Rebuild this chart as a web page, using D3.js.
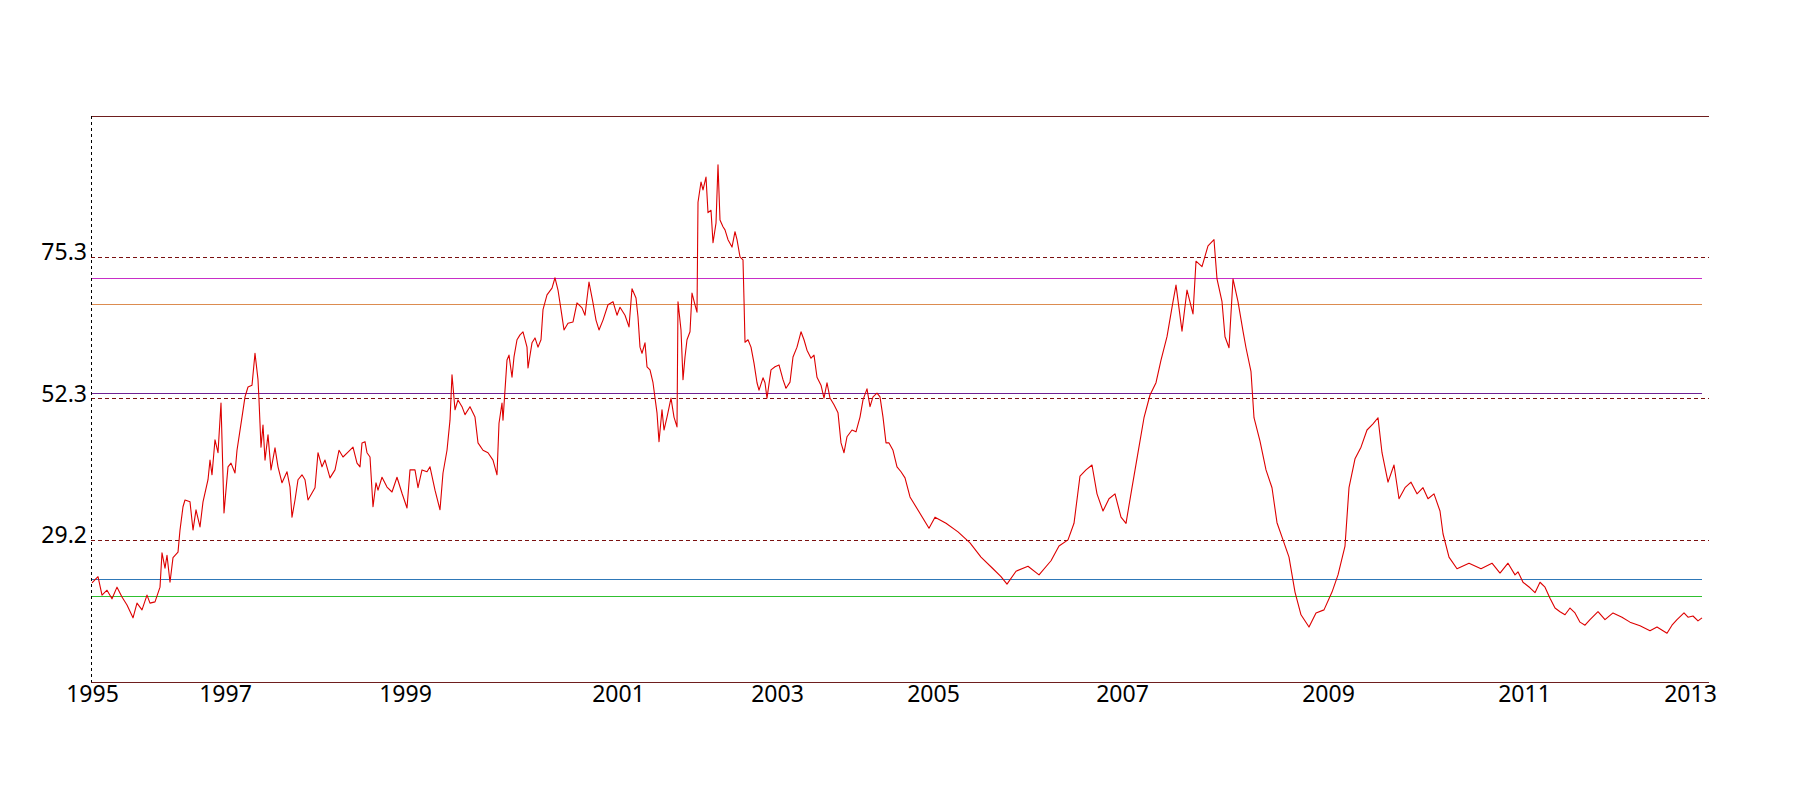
<!DOCTYPE html>
<html>
<head>
<meta charset="utf-8">
<title>Index 1995-2013</title>
<script src="https://d3js.org/d3.v7.min.js"></script>
<style>
  body { margin: 0; background: #fff; }
  .tick text { font-family: "Noto Sans", sans-serif; font-size: 23px; fill: #000; }
  line { shape-rendering: crispEdges; }
</style>
</head>
<body>
<svg width="1800" height="800"></svg>
<script>
// session index of each sample, and closing value
const sessions = [3,21,33,48,63,78,93,108,126,138,153,168,177,192,207,213,222,228,237,246,261,267,276,282,297,306,315,327,336,351,357,363,372,381,390,399,411,420,432,438,453,462,471,483,492,501,504,510,516,522,531,540,552,561,573,588,597,603,612,621,633,642,651,672,681,693,702,717,732,744,756,771,786,798,807,813,822,
  828,837,846,855,861,873,888,903,918,933,948,957,972,981,993,1008,1017,1032,1047,1056,1068,1077,1083,1092,1101,1113,1122,1137,1152,1161,1176,1191,1206,1218,1224,1233,1236,1242,1248,1254,1263,1269,1278,1287,1296,1308,1311,1323,1332,1341,1350,1356,1368,1383,1392,1401,1410,1419,1431,1446,1458,1473,1482,1494,1506,1515,1524,1536,1551,1566,1578,1587,1602,1614,1623,1635,1641,1647,
  1653,1662,1668,1677,1686,1698,1704,1713,1719,1728,1740,1749,1758,1761,1770,1776,1782,1788,1797,1803,1812,1818,1821,1830,1836,1845,1851,1860,1866,1875,1881,1887,1896,1902,1911,1923,1932,1938,1947,1956,1959,1962,1971,1980,1989,1998,2004,2016,2022,2028,2040,2052,2064,2076,2085,2097,2106,2118,2130,2139,2148,2160,2169,2178,2190,2199,2208,2217,2229,2241,2250,2259,2268,2283,2295,2307,2316,2328,2337,2346,2358,2367,2376,2385,2394,2406,2418,2430,2442,2457,
  2514,2532,2565,2601,2637,2670,2706,2730,2748,2775,2811,2844,2880,2904,2931,2949,2967,2985,3003,3018,3036,3054,3072,3090,3105,3123,3141,3159,3177,3195,3210,3228,3246,3255,3273,3288,3306,3315,3333,3351,3369,3378,3393,3402,3414,3426,3441,3456,3465,3480,3489,3507,3525,3543,3558,3576,3594,3612,3630,3654,3675,3699,3723,3741,3762,3774,3792,3810,3828,3846,3861,3873,3891,3909,3924,3942,3960,3978,3996,4011,4029,4047,4056,4074,4098,4134,4170,4203,
  4227,4251,4272,4281,4296,4317,4332,4347,4362,4377,4392,4407,4422,4437,4452,4467,4482,4497,4521,4542,4566,4593,4617,4647,4677,4698,4728,4743,4758,4779,4791,4806,4821,4833];
const closes = [22.3,23.3,20.3,21.1,19.7,21.6,20.0,18.7,16.6,19.0,17.9,20.3,19.0,19.2,21.6,27.2,24.7,26.8,22.4,26.4,27.3,30.9,34.7,35.8,35.5,30.9,34.2,31.4,35.5,39.1,42.3,39.9,45.6,43.5,51.6,33.7,41.2,41.8,40.2,43.9,49.3,52.6,54.2,54.5,59.7,55.4,52.1,44.4,48.0,42.3,46.4,40.7,44.3,41.2,38.6,40.4,37.9,33.0,35.8,39.1,39.9,39.1,35.8,37.8,43.5,41.2,42.3,39.4,40.7,43.9,42.8,43.6,44.4,41.8,41.2,45.1,45.3,
  43.5,42.8,34.7,38.6,37.4,39.5,37.9,37.1,39.5,36.9,34.5,40.7,40.7,37.8,40.7,40.4,41.2,37.4,34.2,40.2,43.9,48.8,56.2,50.5,52.1,51.0,49.7,51.0,49.3,45.1,43.9,43.5,42.3,39.9,48.3,51.6,48.8,53.7,58.6,59.4,55.8,59.1,61.9,62.7,63.2,60.7,57.3,61.4,62.2,60.7,61.9,66.8,69.2,70.3,72.0,70.0,66.8,63.5,64.6,64.8,67.9,67.1,65.9,71.3,67.9,65.1,63.5,65.1,67.6,68.1,65.9,67.2,65.9,64.0,70.2,68.7,65.6,60.7,
  59.7,61.4,57.5,57.0,54.9,50.0,45.3,50.5,47.2,49.3,52.4,49.3,47.7,68.1,63.5,55.4,59.1,61.9,63.2,69.5,67.6,66.4,84.3,87.6,86.3,88.4,82.6,83.0,77.7,80.9,90.4,81.4,80.3,79.8,78.2,77.0,79.5,78.2,75.4,74.9,68.4,61.5,61.9,60.7,58.1,54.9,53.7,55.7,54.9,52.4,57.0,57.5,57.8,55.4,54.0,55.0,59.1,60.7,63.2,61.9,60.2,58.9,59.4,55.8,54.5,52.4,54.9,52.4,51.3,50.0,45.1,43.5,46.1,47.2,46.9,49.3,52.1,53.9,51.0,52.6,53.2,52.6,49.3,45.1,45.1,43.9,41.2,40.4,39.4,36.3,
  31.2,33.0,32.0,30.6,28.8,26.5,24.6,23.3,22.1,24.2,25.0,23.6,25.9,28.3,29.3,32.0,39.7,40.7,41.5,36.8,34.0,36.0,36.8,33.0,32.0,37.8,43.5,49.2,52.9,54.9,58.6,62.4,68.1,70.8,63.3,70.0,66.1,74.7,73.8,77.2,78.2,71.8,68.1,62.4,60.6,71.8,68.1,63.3,60.6,56.7,49.2,45.4,40.7,37.8,32.1,29.3,26.5,20.8,17.1,15.1,17.4,17.9,20.8,23.6,28.3,37.8,42.5,44.4,47.2,48.2,49.2,43.5,38.7,41.5,36.0,37.8,38.7,36.8,37.8,36.0,36.8,34.0,30.3,26.5,24.6,25.5,24.6,25.5,
  23.9,25.5,23.6,24.1,22.4,21.5,20.7,22.4,21.6,19.8,18.2,17.6,17.1,18.2,17.4,15.9,15.4,16.3,17.6,16.3,17.4,16.7,15.9,15.3,14.5,15.1,14.1,15.4,16.3,17.4,16.7,16.9,16.1,16.6];

const yearTicks = [3, 402, 942, 1581, 2058, 2526, 3093, 3711, 4299, 4797];
const yearLabels = ["1995","1997","1999","2001","2003","2005","2007","2009","2011","2013"];

const valueTicks = [29.2, 52.3, 75.3];
const valueLabels = ["29.2", "52.3", "75.3"];
const yMin = 6.15, yMax = 98.35;

// horizontal reference levels
const levelValues = [71.8, 67.7, 53.1, 22.9, 20.0];
const levelColors = ["#c82ec8", "#dc8c50", "#6e2294", "#2e78b8", "#30c030"];

const svg = d3.select("svg");
const plotLeft = 91, plotRight = 1709, plotTop = 116, plotBottom = 682;

const x = d3.scaleLinear().domain([0, 4854]).range([plotLeft, plotRight]);
const y = d3.scaleLinear().domain([yMin, yMax]).range([plotBottom, plotTop]);

const data = sessions.map((s, i) => ({ s: s, v: closes[i] }));
const lastS = sessions[sessions.length - 1];

// dashed grid at the labelled values
svg.selectAll("line.grid")
  .data(valueTicks)
  .enter()
  .append("line")
  .attr("class", "grid")
  .attr("x1", plotLeft).attr("x2", plotRight)
  .attr("y1", d => y(d)).attr("y2", d => y(d))
  .attr("stroke", "#7a1010")
  .attr("stroke-width", 1)
  .attr("stroke-dasharray", "4,3");

// reference levels
svg.selectAll("line.level")
  .data(levelValues)
  .enter()
  .append("line")
  .attr("class", "level")
  .attr("x1", plotLeft).attr("x2", x(lastS))
  .attr("y1", d => y(d)).attr("y2", d => y(d))
  .attr("stroke", (d, i) => levelColors[i])
  .attr("stroke-width", 1);

// frame: top and bottom lines, dotted left axis
svg.append("line")
  .attr("x1", plotLeft).attr("x2", plotRight).attr("y1", plotTop).attr("y2", plotTop)
  .attr("stroke", "#6e1e1e").attr("stroke-width", 1);
svg.append("line")
  .attr("x1", plotLeft).attr("x2", plotRight).attr("y1", plotBottom).attr("y2", plotBottom)
  .attr("stroke", "#6e1e1e").attr("stroke-width", 1);
svg.append("line")
  .attr("x1", plotLeft).attr("x2", plotLeft).attr("y1", plotTop).attr("y2", plotBottom)
  .attr("stroke", "#000").attr("stroke-width", 1)
  .attr("stroke-dasharray", "3,3");

// the series
const line = d3.line().x(d => x(d.s)).y(d => y(d.v));
svg.append("path")
  .datum(data)
  .attr("fill", "none")
  .attr("stroke", "#dd0000")
  .attr("stroke-width", 1.1)
  .attr("stroke-linejoin", "round")
  .attr("d", line);

// axes
const xAxis = d3.axisBottom(x)
  .tickValues(yearTicks)
  .tickFormat((d, i) => yearLabels[i])
  .tickSize(0)
  .tickPadding(4);
svg.append("g")
  .attr("transform", `translate(0,${plotBottom})`)
  .call(xAxis)
  .call(g => g.select(".domain").remove());

const yAxis = d3.axisLeft(y)
  .tickValues(valueTicks)
  .tickFormat((d, i) => valueLabels[i])
  .tickSize(0)
  .tickPadding(4);
svg.append("g")
  .attr("transform", `translate(${plotLeft},0)`)
  .call(yAxis)
  .call(g => g.select(".domain").remove())
  .selectAll("text").attr("dy", "0.1em");
</script>
</body>
</html>
